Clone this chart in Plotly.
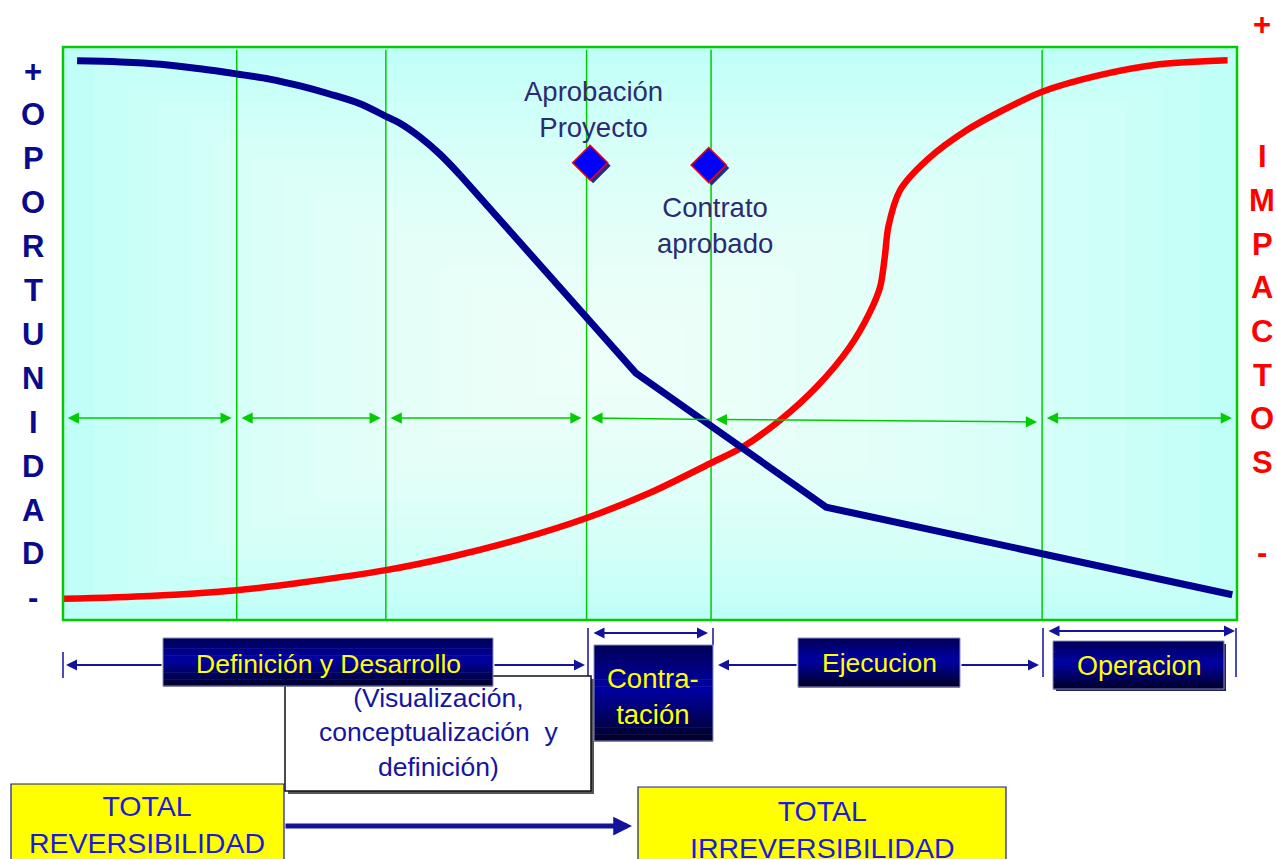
import plotly.graph_objects as go

W, H = 1276, 859

# ---------------- data (timeline 0-100, level 0-100) ----------------
# opportunity curve: smooth upper part, then straight segments
opp_curve_x = [1.2, 4.9, 8.3, 11.7, 14.8, 17.6, 20.2, 22.7, 25.3, 27.6, 28.7, 30.4, 32.1, 33.8]
opp_curve_y = [97.6, 97.4, 97.0, 96.2, 95.3, 94.4, 93.2, 91.8, 90.1, 87.8, 86.7, 84.3, 81.3, 77.7]
opp_line_x = [33.8, 48.8, 65.0, 99.6]
opp_line_y = [77.7, 43.1, 19.7, 4.4]

imp_x = [0.0, 7.4, 14.8, 20.2, 27.5, 33.0, 38.9, 44.6, 50.0, 55.2, 57.9, 61.1, 64.2, 67.0, 68.7,
         69.6, 70.0, 70.3, 71.3, 73.6, 77.0, 79.8, 83.4, 88.3, 93.4, 99.2]
imp_y = [3.7, 4.2, 5.2, 6.5, 8.7, 11.0, 14.1, 17.8, 22.2, 27.4, 30.2, 34.9, 40.7, 47.6, 53.6,
         58.1, 63.4, 68.6, 75.0, 80.3, 85.5, 88.7, 92.2, 95.1, 97.0, 97.7]

phase_bounds = [14.8, 27.5, 44.6, 55.2, 83.4]
milestone_x = [44.9, 55.0]
milestone_y = [79.8, 79.4]
milestone_labels = ["Aprobación<br>Proyecto", "Contrato<br>aprobado"]

left_letters = list("+OPORTUNIDAD-")
right_letters = list("IMPACTOS")
phase_labels = ["Definición y Desarrollo", "Contra-<br>tación", "Ejecucion", "Operacion"]
sub_label = "(Visualización,<br>conceptualización  y<br>definición)"
rev_labels = ["TOTAL<br>REVERSIBILIDAD", "TOTAL<br>IRREVERSIBILIDAD"]

FONT = "Arial, Liberation Sans, sans-serif"
NAVY = "#0a0a8c"
GREEN = "#00cc00"


def px(x):
    return x / W


def py(y):
    return 1 - y / H


shapes = []
annotations = []

# ---------------- plot background (rectangular centre gradient) ----------------
shapes.append(dict(type="rect", xref="x", yref="y", x0=0, x1=100, y0=0, y1=100,
                   fillcolor="rgb(192,255,248)", line=dict(width=0), layer="below"))
cx, cy = 46.0, 45.0
N = 16
for k in range(1, N + 1):
    t = k / N * 0.93
    shapes.append(dict(type="rect", xref="x", yref="y",
                       x0=t * cx, x1=100 - t * (100 - cx),
                       y0=t * cy, y1=100 - t * (100 - cy),
                       fillcolor="white", opacity=0.09, line=dict(width=0), layer="below"))

# vertical phase lines
for b in phase_bounds:
    shapes.append(dict(type="line", xref="x", yref="y", x0=b, x1=b, y0=0, y1=99.5,
                       line=dict(color=GREEN, width=1.5), layer="below"))

# plot border
shapes.append(dict(type="rect", xref="x domain", yref="y domain", x0=0, x1=1, y0=0, y1=1,
                   line=dict(color=GREEN, width=2.5), layer="above"))

# green phase arrows
bounds = [0] + phase_bounds + [100]
spans = [(0, 1, "end+start", 35.25, 35.25), (1, 2, "end+start", 35.25, 35.25),
         (2, 3, "end+start", 35.25, 35.25), (3, 4, "end", 35.25, 35.0),
         (4, 5, "end+start", 35.0, 34.55), (5, 6, "end+start", 35.25, 35.25)]
for i0, i1, side, ya, yb in spans:
    xa = bounds[i0] + 0.4
    xb = bounds[i1] - (0.3 if side != "end" else 0.0)
    annotations.append(dict(x=xa, y=ya, ax=xb, ay=yb, xref="x", yref="y", axref="x", ayref="y",
                            text="", showarrow=True, arrowhead=2, arrowside=side,
                            arrowsize=1.5, arrowwidth=1.5, arrowcolor=GREEN, standoff=0))

# milestone labels
annotations.append(dict(x=milestone_x[0], y=milestone_y[0], xref="x", yref="y", text=milestone_labels[0],
                        showarrow=False, xshift=3, yshift=53, xanchor="center", yanchor="middle",
                        font=dict(family=FONT, size=27.5, color="#2b2b74")))
annotations.append(dict(x=milestone_x[1], y=milestone_y[1], xref="x", yref="y", text=milestone_labels[1],
                        showarrow=False, xshift=6, yshift=-60, xanchor="center", yanchor="middle",
                        font=dict(family=FONT, size=27.5, color="#2b2b74")))


def label(x, y, text, size, color, bold=False):
    annotations.append(dict(x=px(x), y=py(y), xref="paper", yref="paper",
                            text=("<b>%s</b>" % text) if bold else text,
                            showarrow=False, xanchor="center", yanchor="middle",
                            font=dict(family=FONT, size=size, color=color)))


# left / right vertical words
for i, ch in enumerate(left_letters):
    label(33, 71 + 43.9 * i, ch, 31, NAVY, bold=True)
label(1262, 25, "+", 31, "#ff0000", bold=True)
for i, ch in enumerate(right_letters):
    label(1262, 157 + 43.6 * i, ch, 31, "#ff0000", bold=True)
label(1262, 552, "-", 31, "#ff0000", bold=True)


# ---------------- bottom section ----------------
def paper_rect(x0, y0, x1, y1, fill, line_color=None, lw=1.0):
    shapes.append(dict(type="rect", xref="paper", yref="paper", x0=px(x0), x1=px(x1),
                       y0=py(y1), y1=py(y0), fillcolor=fill,
                       line=dict(color=line_color or fill, width=lw if line_color else 0)))


def grad_box(x0, y0, x1, y1):
    n = 14
    stops = [(0.0, (0, 0, 85)), (0.45, (0, 0, 165)), (1.0, (0, 0, 40))]
    for k in range(n):
        t = (k + 0.5) / n
        for (ta, ca), (tb, cb) in zip(stops[:-1], stops[1:]):
            if ta <= t <= tb:
                f = (t - ta) / (tb - ta)
                c = tuple(int(ca[j] + (cb[j] - ca[j]) * f) for j in range(3))
        ya = y0 + (y1 - y0) * k / n
        yb = y0 + (y1 - y0) * (k + 1) / n + 0.5
        shapes.append(dict(type="rect", xref="paper", yref="paper", x0=px(x0), x1=px(x1),
                           y0=py(yb), y1=py(ya), fillcolor="rgb(%d,%d,%d)" % c, line=dict(width=0)))
    shapes.append(dict(type="rect", xref="paper", yref="paper", x0=px(x0), x1=px(x1),
                       y0=py(y1), y1=py(y0), line=dict(color="#8c8cc0", width=1)))


def vtick(x, y0, y1):
    shapes.append(dict(type="line", xref="paper", yref="paper", x0=px(x), x1=px(x),
                       y0=py(y0), y1=py(y1), line=dict(color="#1010a0", width=1.5)))


def navy_arrow(hx, hy, tx, ty, side="end", width=2.0, size=1.1):
    annotations.append(dict(x=px(hx), y=py(hy), xref="paper", yref="paper",
                            ax=tx - hx, ay=ty - hy, axref="pixel", ayref="pixel",
                            text="", showarrow=True, arrowhead=2, arrowside=side,
                            arrowsize=size, arrowwidth=width, arrowcolor="#12129a", standoff=0))


# ticks
vtick(63, 652, 678)
vtick(588, 628, 677)
vtick(713, 628, 645)
vtick(1043, 628, 677)
vtick(1236, 628, 677)

# white sub box (with shadow)
paper_rect(288, 679, 594, 794, "#555555")
paper_rect(285, 676, 591, 791, "white", "#111111", 1.5)

# dark phase boxes
grad_box(163, 638, 493, 686)
grad_box(594, 645, 713, 741)
grad_box(798, 638, 960, 687)
paper_rect(1056, 644, 1226, 691, "#20205a")
grad_box(1053, 641, 1224, 689)

# yellow boxes
paper_rect(11, 784, 284, 866, "#ffff00", "#1a1a8a", 1.2)
paper_rect(638, 787, 1006, 866, "#ffff00", "#1a1a8a", 1.2)

# navy arrows
navy_arrow(66, 665, 163, 665)
navy_arrow(585, 665, 493, 665)
navy_arrow(708, 633, 592, 633, side="end+start")
navy_arrow(718, 665, 798, 665)
navy_arrow(1039, 665, 960, 665)
navy_arrow(1235, 631, 1047, 631, side="end+start")
navy_arrow(632, 826, 284, 826, width=5, size=0.75)

# box labels
label(328, 664, phase_labels[0], 26.5, "#ffff00")
label(653, 696, phase_labels[1], 27.5, "#ffff00")
label(879, 663, phase_labels[2], 26.5, "#ffff00")
label(1139, 666, phase_labels[3], 27, "#ffff00")
label(438, 732, sub_label, 26.5, "#1515a0")
label(147, 824, rev_labels[0], 28.5, "#1c1cd8")
label(822, 829, rev_labels[1], 28.5, "#1c1cd8")

# ---------------- traces ----------------
fig = go.Figure()
fig.add_trace(go.Scatter(x=imp_x, y=imp_y, mode="lines", name="Impactos",
                         line=dict(color="#ff0000", width=6.5, shape="spline", smoothing=0.8),
                         hoverinfo="skip"))
fig.add_trace(go.Scatter(x=opp_curve_x, y=opp_curve_y, mode="lines", name="Oportunidad",
                         line=dict(color="#000090", width=7, shape="spline", smoothing=1.0),
                         hoverinfo="skip"))
fig.add_trace(go.Scatter(x=opp_line_x, y=opp_line_y, mode="lines", name="Oportunidad",
                         line=dict(color="#000090", width=7), hoverinfo="skip"))
sh_x = [v + 3 / 11.74 for v in milestone_x]
sh_y = [v - 3 / 5.73 for v in milestone_y]
fig.add_trace(go.Scatter(x=sh_x, y=sh_y, mode="markers", hoverinfo="skip",
                         marker=dict(symbol="diamond", size=27, color="#1f2e8c")))
fig.add_trace(go.Scatter(x=milestone_x, y=milestone_y, mode="markers", hoverinfo="skip",
                         marker=dict(symbol="diamond", size=27, color="#0000ff",
                                     line=dict(color="#ff0000", width=1.5))))

fig.update_layout(
    width=W, height=H, margin=dict(l=0, r=0, t=0, b=0),
    paper_bgcolor="white", plot_bgcolor="white", showlegend=False,
    xaxis=dict(domain=[63 / W, 1237 / W], range=[0, 100], visible=False, fixedrange=True),
    yaxis=dict(domain=[1 - 620 / H, 1 - 47 / H], range=[0, 100], visible=False, fixedrange=True),
    shapes=shapes, annotations=annotations,
)

fig.write_html("out.html", config={"displayModeBar": False})
